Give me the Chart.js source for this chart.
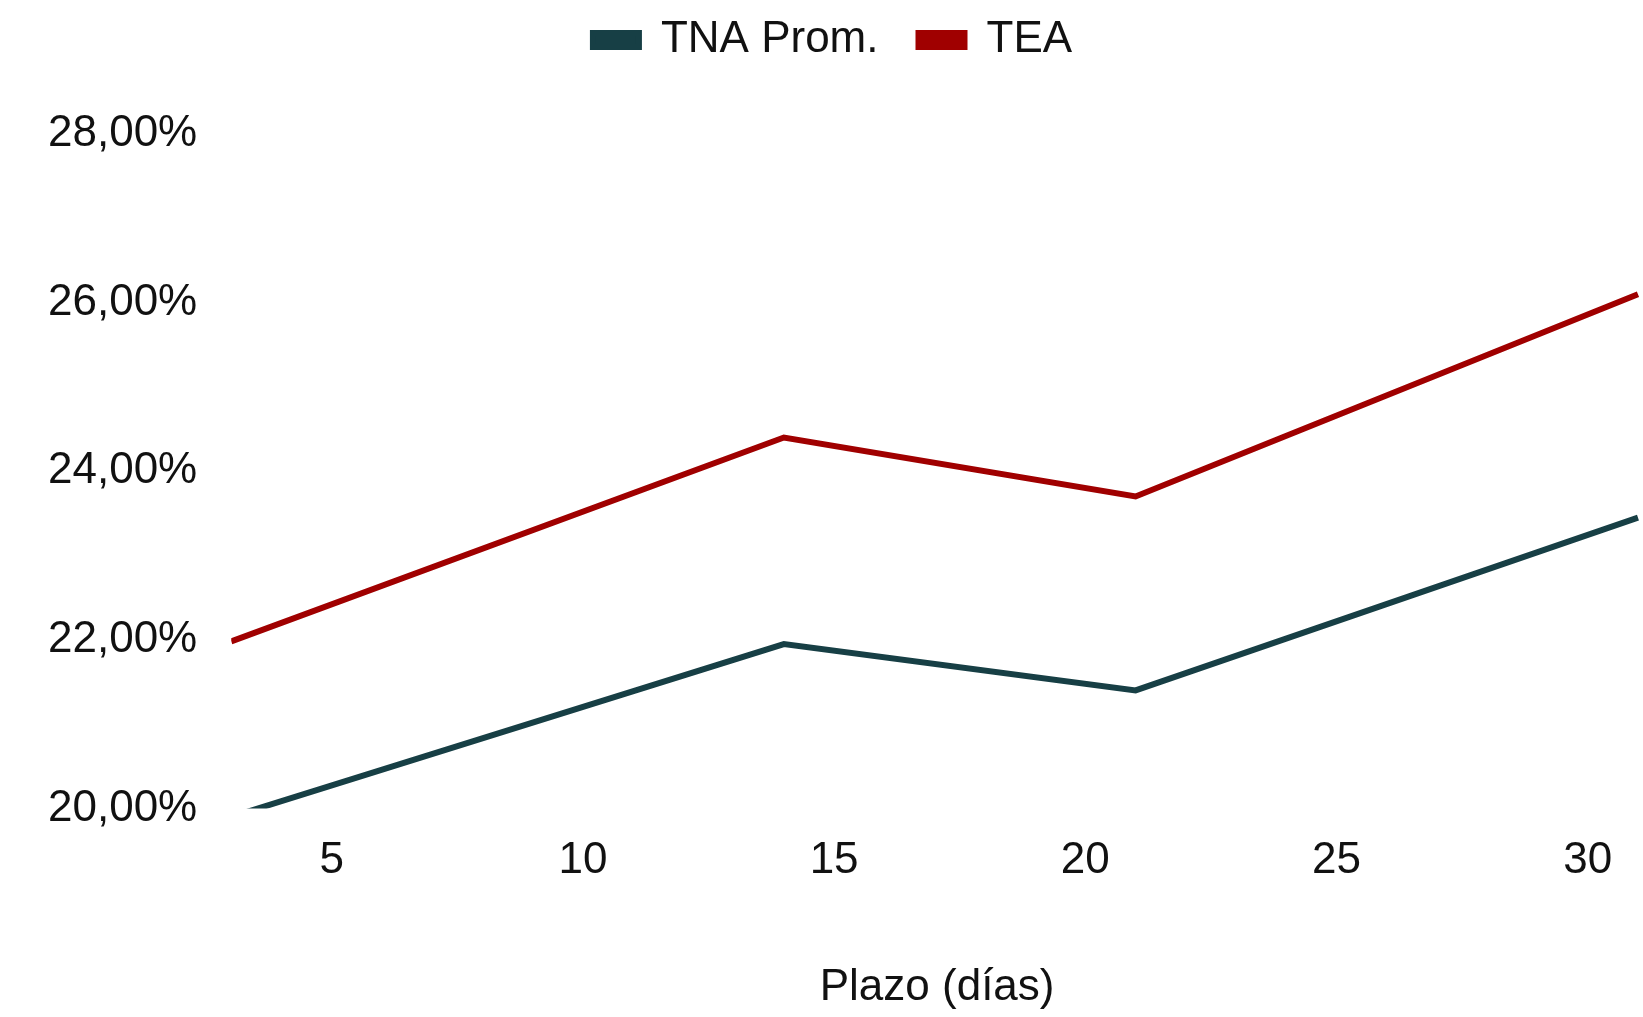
<!DOCTYPE html>
<html>
<head>
<meta charset="utf-8">
<script src="https://cdn.jsdelivr.net/npm/chart.js@4"></script>
<style>
  html, body { margin: 0; padding: 0; background: #fff; }
  #wrap { width: 1643px; height: 1017px; }
</style>
</head>
<body>
<div id="wrap"><canvas id="curva"></canvas></div>
<script>
const plazos = [3, 14, 21, 31];
const tnaProm = [19.9, 21.95, 21.4, 23.45];
const tea = [21.98, 24.4, 23.7, 26.1];
const yTicks = [20, 22, 24, 26, 28];

function puntos(vals) {
  return plazos.map((d, i) => ({ x: d, y: vals[i] }));
}

Chart.defaults.font.family = '"Liberation Sans", Arial, sans-serif';
Chart.defaults.color = '#111';

// deja aire debajo de la leyenda
const legendGap = {
  id: 'legendGap',
  beforeInit(chart) {
    const fit = chart.legend.fit;
    chart.legend.fit = function () {
      fit.call(this);
      this.height += 62;
    };
  }
};

new Chart(document.getElementById('curva'), {
  type: 'line',
  data: {
    datasets: [
      { label: 'TNA Prom.', data: puntos(tnaProm), borderColor: '#173f45', backgroundColor: '#173f45', borderWidth: 6, pointRadius: 0, tension: 0 },
      { label: 'TEA', data: puntos(tea), borderColor: '#a00000', backgroundColor: '#a00000', borderWidth: 6, pointRadius: 0, tension: 0 }
    ]
  },
  options: {
    responsive: true,
    maintainAspectRatio: false,
    animation: false,
    layout: { padding: { top: -22, right: 0, bottom: 0, left: 22 } },
    plugins: {
      legend: {
        position: 'top',
        labels: { font: { size: 44 }, boxWidth: 46, boxHeight: 14, padding: 40 }
      },
      tooltip: { enabled: false }
    },
    scales: {
      x: {
        type: 'linear',
        min: 3,
        max: 31.1,
        grid: { display: false },
        border: { display: false },
        afterBuildTicks: ax => { ax.ticks = [5, 10, 15, 20, 25, 30].map(v => ({ value: v })); },
        ticks: { font: { size: 44 }, padding: 18 },
        title: { display: true, text: 'Plazo (días)', font: { size: 44 }, padding: { top: 56, bottom: 3 } }
      },
      y: {
        min: 20,
        max: 28,
        grid: { display: false },
        border: { display: false },
        afterBuildTicks: ax => { ax.ticks = yTicks.map(v => ({ value: v })); },
        ticks: {
          font: { size: 44 },
          padding: 26,
          callback: v => v.toFixed(2).replace('.', ',') + '%'
        }
      }
    }
  },
  plugins: [legendGap]
});
</script>
</body>
</html>
